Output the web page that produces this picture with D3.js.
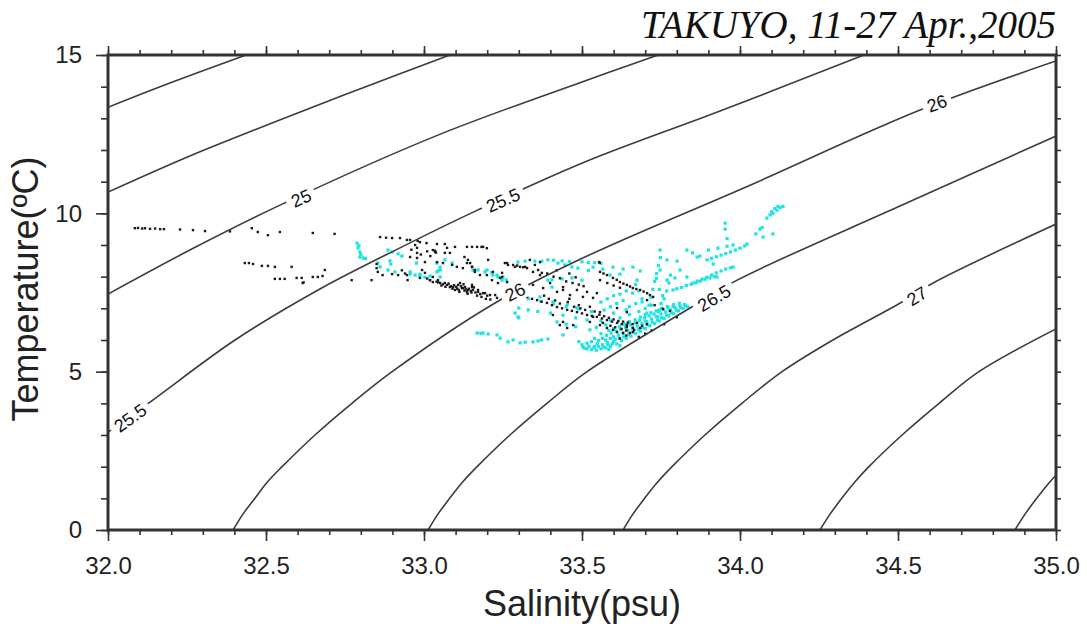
<!DOCTYPE html>
<html>
<head>
<meta charset="utf-8">
<script src="https://cdn.jsdelivr.net/npm/d3@7"></script>
<style>
  body { margin: 0; background: #fff; }
  svg { display: block; }
  .tick text { font-family: "Liberation Sans", Arial, sans-serif; fill: #222; }
</style>
</head>
<body>
<svg id="chart" width="1087" height="627"></svg>
<script>
// axis ticks
const salTicks = [32.0, 32.5, 33.0, 33.5, 34.0, 34.5, 35.0];
const tempTicks = [0, 5, 10, 15];

// sigma-t isopycnals, points as [salinity, temperature]
const contourLevels = [24.0, 24.5, 25.0, 25.5, 26.0, 26.5, 27.0, 27.5, 28.0];
const contourPts = [
  [[32.0,13.35],[32.2,14.13],[32.437,15.0]],
  [[32.0,10.67],[32.259,11.81],[32.519,12.85],[32.797,13.93],[33.082,15.0]],
  [[32.0,7.45],[32.259,8.84],[32.551,10.29],[33.044,12.47],[33.5,14.15],[33.741,15.0]],
  [[32.0,3.09],[32.133,4.04],[32.402,6.0],[32.665,7.58],[32.924,8.91],[33.171,10.11],[33.509,11.62],[33.937,13.23],[34.392,15.0]],
  [[32.396,0.0],[32.427,0.5],[32.465,1.0],[32.503,1.5],[32.551,2.0],[32.655,3.0],[32.772,4.0],[32.899,5.0],[33.225,7.17],[33.509,8.62],[34.032,10.89],[34.57,13.26],[35.0,14.81]],
  [[33.013,0.0],[33.044,0.5],[33.081,1.0],[33.121,1.5],[33.168,2.0],[33.272,3.0],[33.389,4.0],[33.516,5.0],[33.842,7.01],[33.991,7.89],[34.506,10.23],[35.0,12.44]],
  [[33.63,0.0],[33.661,0.5],[33.698,1.0],[33.738,1.5],[33.785,2.0],[33.889,3.0],[34.006,4.0],[34.133,5.0],[34.294,6.0],[34.513,7.2],[34.611,7.8],[35.0,9.66]],
  [[34.253,0.0],[34.285,0.5],[34.322,1.0],[34.362,1.5],[34.408,2.0],[34.513,3.0],[34.63,4.0],[34.756,5.0],[35.0,6.35]],
  [[34.87,0.0],[34.902,0.5],[34.939,1.0],[34.979,1.5],[35.025,2.0]]
];

// contour labels: level index, salinity, temperature
const labelText = ["25", "25.5", "26", "26", "26.5", "27", "25.5"];
const labelLevel = [2, 3, 4, 4, 5, 6, 3];
const labelPos = [[32.611,10.48],[33.25,10.42],[33.288,7.52],[34.623,13.48],[33.918,7.33],[34.56,7.39],[32.07,3.54]];

// observations (salinity, temperature)
const blackPts = [
  [32.085,9.53],[32.095,9.54],[32.108,9.52],[32.117,9.53],[32.133,9.51],[32.149,9.52],[32.165,9.50],[32.177,9.50],[32.228,9.49],[32.269,9.47],[32.307,9.44],[32.386,9.43],
  [32.455,9.53],[32.474,9.41],[32.506,9.31],[32.544,9.41],[32.648,9.38],[32.717,9.35],
  [32.861,9.25],[32.880,9.23],[32.899,9.22],[32.924,9.22],[32.956,9.16],[32.980,9.13],[33.008,9.06],[33.041,9.03],[33.066,9.03],[33.098,8.94],[33.152,8.94],[33.182,8.94],[33.199,8.90],
  [32.433,8.43],[32.446,8.43],[32.459,8.40],[32.487,8.34],[32.506,8.34],[32.528,8.31],[32.581,8.31],[32.686,8.21],
  [32.528,7.93],[32.544,7.93],[32.559,7.93],[32.597,7.96],[32.613,7.96],[32.616,7.80],[32.619,7.82],[32.648,7.99],[32.664,7.99],[32.679,8.02],[32.771,7.89],[32.834,7.89],[32.850,8.40],[32.850,8.27],[32.854,8.15],[32.869,8.05],[32.899,8.08],[32.918,8.05],[32.948,7.89],
  [32.978,8.91],[32.978,8.75],[33.035,8.78],[33.038,8.76],[33.066,8.75],[33.128,8.62],[33.136,8.43],[33.152,8.31],[33.161,8.21],[33.203,8.53],[33.256,8.43],[33.266,8.37],[33.288,8.31],[33.320,8.31],[33.351,8.37],[33.361,8.21],[33.373,8.12],
  [32.994,8.21],[33.003,8.12],[33.019,7.89],[33.028,7.99],[33.044,7.89],[33.066,7.80],[33.082,7.67],[33.098,7.58],[33.108,7.74],[33.123,7.64],[33.136,7.52],[33.152,7.67],[33.171,7.58],[33.193,7.48],[33.225,7.42],[33.234,7.80],[33.247,7.99],[33.215,7.89],
  [32.946,9.16],[32.972,9.00],[32.987,9.09],[33.028,8.84],[33.035,8.82],[33.073,8.91],[33.082,8.75],[33.136,8.94],[33.168,8.94],[33.187,8.94],
  [32.956,8.62],[32.978,8.59],[33.003,8.46],[33.041,8.46],[33.060,8.43],[33.089,8.37],[33.104,8.31],[33.123,8.27],[33.139,8.53],[33.146,8.43],[33.152,8.31],[33.161,8.15],[33.177,8.05],
  [32.946,8.05],[32.987,7.96],[33.019,7.89],[33.028,7.83],[33.051,7.80],[33.073,7.74],[33.092,7.67],[33.114,7.80],[33.120,7.64],[33.130,7.67],[33.139,7.58],[33.152,7.74],[33.155,7.58],[33.171,7.52],[33.187,7.48],[33.209,7.42],[33.231,7.33],[33.199,8.05],[33.218,8.15],[33.241,7.96],[33.247,8.12],[33.263,7.83],
  [33.117,7.70],[33.125,7.76],[33.142,7.62],[33.148,7.55],[33.158,7.66],[33.163,7.50],[33.095,7.73],[33.105,7.62],[32.930,8.20],[32.940,8.10],
  [33.060,7.76],[33.085,7.70],[33.110,7.58],[33.132,7.60],[33.178,7.45],[33.200,7.40],[33.040,7.84],[33.010,7.94],
  [33.045,7.82],[33.055,7.72],[33.068,7.68],[33.078,7.78],[33.090,7.62],[33.102,7.68],[33.112,7.52],[33.128,7.56],[33.138,7.46],[33.150,7.50],[33.168,7.40],[33.182,7.36],[33.196,7.30],[33.210,7.28],
  [32.960,8.85],[32.990,8.70],[33.010,8.80],[33.020,8.65],
  [33.263,8.43],[33.282,8.37],[33.304,8.31],[33.326,8.27],[33.345,8.15],[33.367,8.05],[33.335,8.53],[33.367,8.46],[33.295,8.35],[33.314,8.30],
  [33.390,8.10],[33.410,8.00],[33.430,7.95],[33.450,7.85],[33.470,7.80],[33.490,7.75],[33.505,7.70],[33.420,8.20],[33.460,8.10],[33.480,7.98],
  [33.554,8.46],[33.556,8.44],
  [33.557,8.15],[33.579,8.05],[33.598,7.96],[33.620,7.83],[33.642,7.74],[33.661,7.64],[33.684,7.58],[33.706,7.48],[33.725,7.36],[33.568,8.10],[33.610,7.90],[33.631,7.78],[33.652,7.69],[33.672,7.61],[33.695,7.53],[33.715,7.42],
  [33.345,7.74],[33.377,7.64],[33.399,7.80],[33.421,7.52],[33.440,7.67],[33.462,7.42],[33.484,7.58],[33.503,7.36],[33.516,7.52],[33.535,7.33],[33.547,7.48],
  [33.326,7.36],[33.358,7.26],[33.389,7.17],[33.421,7.04],[33.453,6.95],[33.484,6.88],[33.516,6.79],[33.547,6.73],[33.579,6.63],[33.611,6.54],[33.642,6.47],[33.661,6.38],
  [33.342,7.30],[33.372,7.21],[33.405,7.10],[33.437,7.00],[33.468,6.92],[33.500,6.84],[33.531,6.76],[33.563,6.68],[33.595,6.58],[33.626,6.50],
  [33.380,7.40],[33.395,7.30],[33.415,7.25],[33.430,7.15],[33.455,7.20],[33.475,7.05],[33.495,7.00],[33.510,6.95],[33.525,7.05],[33.540,6.90],[33.555,6.80],[33.570,6.75],[33.585,6.70],[33.600,6.65],[33.615,6.60],[33.630,6.58],[33.645,6.55],[33.660,6.50],[33.590,6.45],[33.605,6.40],[33.625,6.35],[33.640,6.30],[33.665,6.32],[33.690,6.45],[33.705,6.50],
  [33.408,6.79],[33.440,6.57],[33.472,6.47],
  [33.525,6.57],[33.557,6.47],[33.579,6.38],[33.611,6.25],[33.630,6.22],[33.661,6.25],[33.684,6.38],[33.557,6.88],[33.611,7.01],[33.642,6.88],[33.430,6.47],[33.453,6.38],
  [33.557,7.89],[33.580,7.80],[33.600,7.72],[33.620,7.65],[33.440,7.58],[33.460,7.30],[33.490,7.10],[33.535,6.73],[33.566,6.54],[33.598,6.32],[33.642,6.41],[33.674,6.54],[33.652,6.22],[33.706,7.26],[33.730,7.10],[33.756,6.98],[33.778,6.92],
  [33.680,6.10],[33.720,6.30],[33.760,6.50],[33.800,6.72],[33.620,6.05],[33.640,6.14],[33.700,6.20]
];

const cyanPts = [
  [32.788,9.06],[32.791,8.91],[32.794,8.98],[32.797,8.78],[32.797,8.62],[32.800,8.70],[32.807,8.59],[32.815,8.57],[32.854,8.43],[32.861,8.31],[32.886,8.84],[32.899,8.78],[32.918,8.72],[32.930,8.65],[32.892,8.50],[32.895,8.40],
  [32.886,8.21],[32.908,8.15],[32.956,8.08],[32.972,8.05],[32.987,8.02],[33.003,7.98],[33.041,8.15],[33.044,8.18],[33.066,8.53],[33.089,8.43],[33.171,8.21],[33.193,8.15],[33.215,8.12],[33.234,7.99],[33.247,7.89],
  [32.976,8.43],[33.041,8.43],[33.051,8.21],[33.051,8.30],[33.155,8.21],[33.199,8.21],[33.218,8.05],[33.250,7.99],[33.231,8.05],[33.260,7.90],
  [33.297,8.46],[33.320,8.49],[33.351,8.49],[33.373,8.49],[33.392,8.53],[33.424,8.43],[33.446,8.37],[33.468,8.31],[33.487,8.27],[33.410,8.52],[33.437,8.50],[33.460,8.48],[33.500,8.47],[33.520,8.45],[33.540,8.44],[33.560,8.42],
  [33.392,7.89],[33.405,7.90],[33.437,7.93],[33.468,7.96],[33.500,7.89],[33.405,7.67],
  [32.956,8.15],[32.987,8.08],[33.019,8.02],[33.051,7.99],
  [33.326,7.42],[33.367,7.36],[33.408,7.20],[33.453,7.11],[33.484,7.01],[33.300,7.01],[33.330,6.95],[33.360,6.90],[33.400,6.85],[33.440,6.78],[33.480,6.70],[33.516,6.63],[33.421,6.57],[33.450,6.50],[33.480,6.42],[33.525,6.32],
  [33.330,7.30],[33.370,7.22],[33.410,7.15],[33.450,7.05],[33.490,6.98],[33.530,6.90],
  [33.168,6.22],[33.180,6.21],[33.187,6.22],[33.203,6.19],[33.231,6.16],[33.241,6.06],[33.266,5.94],[33.304,5.91],[33.345,5.94],[33.361,5.97],[33.392,6.03],[33.440,6.16],[33.297,6.73],[33.300,6.70],[33.288,6.85],[33.282,6.00],[33.320,5.93],[33.372,6.00],
  [33.503,5.78],[33.516,5.72],[33.530,5.70],[33.545,5.68],[33.560,5.72],[33.575,5.75],[33.590,5.80],[33.516,5.90],[33.530,5.95],[33.548,5.88],[33.565,5.85],[33.580,5.92],[33.600,5.95],[33.610,5.88],[33.625,5.98],[33.640,6.05],[33.655,6.12],[33.670,6.20],[33.685,6.28],[33.700,6.36],[33.715,6.45],[33.730,6.52],[33.745,6.60],[33.760,6.68],[33.775,6.76],[33.790,6.84],[33.805,6.92],[33.820,7.00],[33.835,7.05],
  [33.508,5.74],[33.522,5.80],[33.538,5.76],[33.552,5.80],[33.568,5.78],[33.582,5.85],[33.596,5.88],[33.605,6.02],[33.618,6.05],[33.632,6.10],[33.648,6.18],[33.662,6.26],[33.678,6.32],[33.692,6.40],[33.708,6.48],[33.722,6.56],[33.738,6.62],[33.752,6.70],[33.768,6.78],[33.782,6.86],[33.798,6.94],[33.812,7.02],[33.828,7.08],
  [33.600,6.10],[33.615,6.15],[33.630,6.22],[33.645,6.30],[33.660,6.38],[33.675,6.44],[33.690,6.52],[33.705,6.58],[33.720,6.66],[33.735,6.74],[33.750,6.82],[33.765,6.88],[33.780,6.95],[33.795,7.02],[33.810,7.08],[33.825,7.12],
  [33.592,6.22],[33.608,6.28],[33.622,6.34],[33.638,6.40],[33.652,6.48],[33.668,6.54],[33.682,6.62],[33.698,6.70],[33.712,6.76],[33.728,6.82],[33.742,6.90],[33.758,6.96],[33.772,7.02],[33.788,7.06],
  [33.585,6.30],[33.600,6.36],[33.618,6.42],[33.635,6.50],[33.650,6.58],[33.668,6.64],[33.685,6.72],[33.700,6.80],[33.718,6.86],[33.735,6.92],[33.752,7.00],[33.770,7.06],[33.790,7.12],[33.808,7.16],
  [33.578,6.15],[33.565,6.05],[33.552,5.98],[33.575,6.00],[33.590,6.05],
  [33.540,6.05],[33.560,6.20],[33.575,6.48],[33.560,6.60],[33.590,6.62],[33.620,6.70],[33.650,6.80],[33.680,6.90],[33.700,7.00],[33.720,7.10],[33.545,6.40],[33.600,6.85],[33.640,6.95],[33.540,5.80],[33.585,5.70],[33.620,5.82],[33.500,5.85],[33.490,5.95],
  [33.570,6.95],[33.590,7.05],[33.610,7.15],[33.630,7.25],[33.650,7.05],[33.670,7.15],[33.690,7.20],[33.560,7.20],[33.580,7.30],[33.600,7.40],[33.620,7.45],[33.640,7.55],[33.660,7.48],
  [33.700,6.60],[33.705,6.85],[33.712,7.10],[33.718,7.35],[33.724,7.60],[33.730,7.85],[33.736,8.10],[33.742,8.35],[33.748,8.60],[33.760,7.30],[33.768,7.55],[33.775,7.80],[33.780,8.05],[33.690,7.30],[33.680,7.55],[33.670,7.75],
  [33.740,6.72],[33.745,6.95],[33.750,7.15],[33.755,7.40],[33.745,7.60],[33.735,7.95],
  [33.788,7.58],[33.800,7.62],[33.815,7.66],[33.830,7.72],[33.845,7.76],[33.860,7.80],[33.875,7.86],[33.890,7.92],[33.905,7.96],[33.920,8.00],[33.927,7.99],
  [33.851,7.80],[33.865,7.86],[33.880,7.92],[33.895,7.98],[33.910,8.05],[33.925,8.12],[33.940,8.18],[33.955,8.24],[33.970,8.28],[33.978,8.30],
  [33.896,8.53],[33.910,8.58],[33.925,8.63],[33.940,8.68],[33.955,8.73],[33.970,8.78],[33.985,8.84],[34.000,8.90],[34.015,8.97],[34.022,9.03],
  [33.959,9.20],[34.063,9.50],[34.073,9.25],[34.104,9.35],[34.085,9.85],[34.095,9.95],[34.104,10.00],[34.117,10.10],[34.127,10.18],[34.136,10.22],[34.120,10.22],[34.110,10.15],[34.100,10.05],[34.070,9.55],[34.050,9.35],[33.953,9.50],
  [33.535,8.30],[33.566,8.24],[33.598,8.30],[33.630,8.24],[33.661,8.30],[33.684,8.18],[33.589,8.05],[33.620,8.08],[33.674,7.89],[33.520,8.20],
  [33.747,8.84],[33.769,8.53],[33.832,8.84],[33.801,8.49],[33.810,8.21],[33.864,8.62],[33.915,8.40],[33.747,8.21],[33.769,7.89],[33.794,7.96],[33.832,7.99],[33.850,8.75],[33.873,8.65],[33.900,8.84],[33.930,8.90],
  [33.953,9.69],[33.959,8.96],[33.978,9.00]
];

const svg = d3.select("#chart");

// plot box in pixels
const pLeft = 108, pRight = 1056, pTop = 55, pBottom = 530;

const x = d3.scaleLinear().domain([32, 35]).range([pLeft, pRight]);
const y = d3.scaleLinear().domain([0, 15]).range([pBottom, pTop]);

svg.append("clipPath").attr("id", "clip")
  .append("rect")
  .attr("x", pLeft).attr("y", pTop)
  .attr("width", pRight - pLeft).attr("height", pBottom - pTop);

const plotArea = svg.append("g").attr("clip-path", "url(#clip)");

// data points first, contours are drawn over them
plotArea.append("g").selectAll("rect")
  .data(cyanPts)
  .join("rect")
  .attr("x", d => x(d[0]) - 1.6)
  .attr("y", d => y(d[1]) - 1.6)
  .attr("width", 3.2)
  .attr("height", 3.2)
  .attr("fill", "#1ee3e3");

plotArea.append("g").selectAll("rect")
  .data(blackPts)
  .join("rect")
  .attr("x", d => x(d[0]) - 1.2)
  .attr("y", d => y(d[1]) - 1.2)
  .attr("width", 2.4)
  .attr("height", 2.4)
  .attr("fill", "#1a1a1a");

// isopycnals
const line = d3.line()
  .x(d => x(d[0]))
  .y(d => y(d[1]))
  .curve(d3.curveCatmullRom.alpha(0.5));

plotArea.append("g").selectAll("path")
  .data(contourPts)
  .join("path")
  .attr("d", line)
  .attr("fill", "none")
  .attr("stroke", "#3c3c3c")
  .attr("stroke-width", 1.6);

// contour labels, rotated along the line
const labelGroup = plotArea.append("g");
labelText.forEach((txt, i) => {
  const pts = contourPts[labelLevel[i]];
  const px = x(labelPos[i][0]), py = y(labelPos[i][1]);
  let angle = 0;
  for (let k = 0; k < pts.length - 1; k++) {
    const x1 = x(pts[k][0]), x2 = x(pts[k + 1][0]);
    if (px >= x1 && px <= x2) {
      angle = Math.atan2(y(pts[k + 1][1]) - y(pts[k][1]), x2 - x1) * 180 / Math.PI;
      break;
    }
  }
  const g = labelGroup.append("g")
    .attr("transform", "translate(" + px + "," + py + ") rotate(" + angle + ")");
  const bg = g.append("rect").attr("fill", "#fff");
  const t = g.append("text")
    .attr("text-anchor", "middle")
    .attr("dy", "0.36em")
    .attr("font-family", "Liberation Sans, Arial, sans-serif")
    .attr("font-size", 18)
    .attr("fill", "#111")
    .text(txt);
  const w = t.node().getComputedTextLength();
  bg.attr("x", -w / 2 - 5).attr("y", -10).attr("width", w + 10).attr("height", 20);
});

// axes: major ticks with labels, minor ticks without
const axisColor = "#333";
function styleAxis(g) {
  g.select(".domain").remove();
  g.selectAll(".tick line").attr("stroke", axisColor).attr("stroke-width", 1.6);
}

svg.append("g")
  .attr("transform", "translate(0," + pBottom + ")")
  .call(d3.axisBottom(x).tickValues(d3.range(320, 351).map(v => v / 10)).tickSize(5).tickFormat(""))
  .call(styleAxis);
svg.append("g")
  .attr("transform", "translate(0," + pBottom + ")")
  .call(d3.axisBottom(x).tickValues(salTicks).tickSize(11).tickPadding(16).tickFormat(d3.format(".1f")))
  .call(styleAxis)
  .selectAll("text").attr("font-size", 24);

svg.append("g")
  .attr("transform", "translate(0," + pTop + ")")
  .call(d3.axisTop(x).tickValues(d3.range(320, 351).map(v => v / 10)).tickSize(5).tickFormat(""))
  .call(styleAxis);
svg.append("g")
  .attr("transform", "translate(0," + pTop + ")")
  .call(d3.axisTop(x).tickValues(salTicks).tickSize(9).tickFormat(""))
  .call(styleAxis);

svg.append("g")
  .attr("transform", "translate(" + pLeft + ",0)")
  .call(d3.axisLeft(y).tickValues(d3.range(0, 16)).tickSize(7).tickFormat(""))
  .call(styleAxis);
svg.append("g")
  .attr("transform", "translate(" + pLeft + ",0)")
  .call(d3.axisLeft(y).tickValues(tempTicks).tickSize(12).tickPadding(14))
  .call(styleAxis)
  .selectAll("text").attr("font-size", 24);

svg.append("g")
  .attr("transform", "translate(" + pRight + ",0)")
  .call(d3.axisRight(y).tickValues(d3.range(0, 16)).tickSize(5).tickFormat(""))
  .call(styleAxis);

// frame
svg.append("rect")
  .attr("x", pLeft).attr("y", pTop)
  .attr("width", pRight - pLeft).attr("height", pBottom - pTop)
  .attr("fill", "none")
  .attr("stroke", axisColor)
  .attr("stroke-width", 3);

// titles
svg.append("text")
  .attr("x", (pLeft + pRight) / 2)
  .attr("y", 616)
  .attr("text-anchor", "middle")
  .attr("font-family", "Liberation Sans, Arial, sans-serif")
  .attr("font-size", 36)
  .attr("fill", "#222")
  .text("Salinity(psu)");

svg.append("text")
  .attr("transform", "translate(38,289) rotate(-90)")
  .attr("text-anchor", "middle")
  .attr("font-family", "Liberation Sans, Arial, sans-serif")
  .attr("font-size", 36)
  .attr("fill", "#222")
  .text("Temperature(ºC)");

svg.append("text")
  .attr("x", pRight)
  .attr("y", 38)
  .attr("text-anchor", "end")
  .attr("font-family", "Liberation Serif, Times New Roman, serif")
  .attr("font-style", "italic")
  .attr("font-size", 39)
  .attr("fill", "#111")
  .text("TAKUYO, 11-27 Apr.,2005");
</script>
</body>
</html>
